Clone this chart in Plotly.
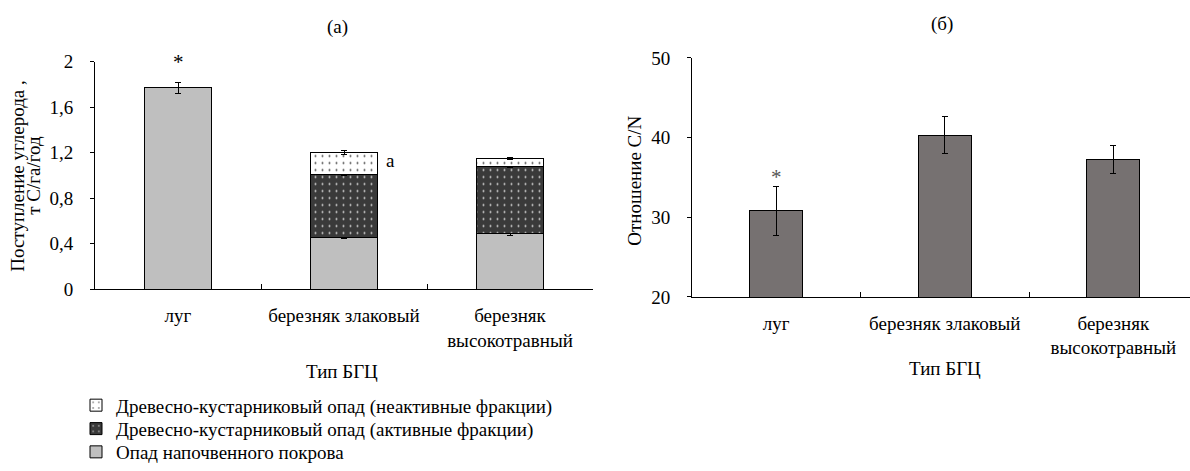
import plotly.graph_objects as go

W, H = 1190, 471

categories = ["луг", "березняк злаковый", "березняк<br>высокотравный"]

# Panel (а): carbon input, t C/ha/yr (stacked)
ground_litter = [1.77, 0.45, 0.49]
ground_err = [0.05, 0.005, 0.02]
wood_active = [0.56, 0.59]          # birch forests only
wood_active_err = [0.015, 0.01]
wood_inactive = [0.19, 0.07]
wood_inactive_err = [0.02, 0.01]

# Panel (б): C/N ratio
cn_ratio = [30.8, 40.3, 37.2]
cn_err = [3.1, 2.3, 1.75]

y1_ticks = [0, 0.4, 0.8, 1.2, 1.6, 2]
y1_ticktext = ["0", "0,4", "0,8", "1,2", "1,6", "2"]
y2_ticks = [20, 30, 40, 50]

legend_names = [
    "Опад напочвенного покрова",
    "Древесно-кустарниковый опад (активные фракции)",
    "Древесно-кустарниковый опад (неактивные фракции)",
]

FONT = "Liberation Serif, Times New Roman, serif"
FS = 19


def px_x(p):
    return p / W


def px_y(p):
    return (H - p) / H


fig = go.Figure()

err_style = dict(type="data", color="black", thickness=1, width=3, visible=True)

fig.add_trace(go.Bar(
    x=categories, y=ground_litter, name=legend_names[0], legend="legend3",
    marker=dict(color="#bfbfbf", line=dict(color="black", width=1)),
    error_y=dict(array=ground_err, **err_style),
    width=0.4, xaxis="x", yaxis="y",
))
fig.add_trace(go.Bar(
    x=categories[1:], y=wood_active, name=legend_names[1], legend="legend2",
    marker=dict(color="#3a3a3a", line=dict(color="black", width=1),
                pattern=dict(shape=".", fgcolor="#dddddd", bgcolor="#3a3a3a",
                             size=7, solidity=0.06, fillmode="replace")),
    error_y=dict(array=wood_active_err, **err_style),
    width=0.4, xaxis="x", yaxis="y",
))
fig.add_trace(go.Bar(
    x=categories[1:], y=wood_inactive, name=legend_names[2], legend="legend",
    marker=dict(color="white", line=dict(color="black", width=1),
                pattern=dict(shape=".", fgcolor="#444444", bgcolor="white",
                             size=7, solidity=0.06, fillmode="replace")),
    error_y=dict(array=wood_inactive_err, **err_style),
    width=0.4, xaxis="x", yaxis="y",
))

fig.add_trace(go.Bar(
    x=categories, y=cn_ratio, showlegend=False,
    marker=dict(color="#767171", line=dict(color="black", width=1)),
    error_y=dict(array=cn_err, **err_style),
    width=0.315, xaxis="x2", yaxis="y2",
))

axis_common = dict(
    showgrid=False, zeroline=False, showline=True, linecolor="black", linewidth=1,
    tickfont=dict(family=FONT, size=FS, color="black"), automargin=False,
)

legend_common = dict(xanchor="left", yanchor="middle", bgcolor="rgba(0,0,0,0)",
                     font=dict(family=FONT, size=FS, color="black"),
                     itemwidth=30, tracegroupgap=0, borderwidth=0)

fig.update_layout(
    width=W, height=H,
    margin=dict(l=0, r=0, t=0, b=0),
    paper_bgcolor="white", plot_bgcolor="white",
    barmode="stack",
    font=dict(family=FONT, size=FS, color="black"),
    xaxis=dict(domain=[px_x(95), px_x(593)], range=[-0.5, 2.5],
               ticks="inside", tickson="boundaries", ticklen=5, tickcolor="black",
               ticklabelstandoff=9, anchor="y", **axis_common),
    yaxis=dict(domain=[px_y(296), px_y(63)], range=[0, 2],
               tickvals=y1_ticks, ticktext=y1_ticktext,
               ticks="outside", ticklen=4, tickcolor="black", ticklabelstandoff=13,
               anchor="x", **axis_common),
    xaxis2=dict(domain=[px_x(692), 1.0], range=[-0.5, 2.455],
                ticks="inside", tickson="boundaries", ticklen=5, tickcolor="black",
                ticklabelstandoff=9, anchor="y2", **axis_common),
    yaxis2=dict(domain=[px_y(304), px_y(59.3)], range=[20, 50],
                tickvals=y2_ticks,
                ticks="outside", ticklen=4, tickcolor="black", ticklabelstandoff=13,
                anchor="x2", **axis_common),
    legend=dict(x=px_x(76), y=px_y(415), **legend_common),
    legend2=dict(x=px_x(76), y=px_y(439), **legend_common),
    legend3=dict(x=px_x(76), y=px_y(463), **legend_common),
    showlegend=True,
)

ann = dict(xref="paper", yref="paper", showarrow=False,
           xanchor="center", yanchor="middle",
           font=dict(family=FONT, size=FS, color="black"))
fig.add_annotation(text="(а)", x=px_x(337), y=px_y(28), **ann)
fig.add_annotation(text="(б)", x=px_x(942), y=px_y(25), **ann)
fig.add_annotation(text="Тип БГЦ", x=px_x(342), y=px_y(380), **ann)
fig.add_annotation(text="Тип БГЦ", x=px_x(945), y=px_y(377), **ann)
fig.add_annotation(text="Поступление углерода ,", textangle=-90,
                   x=px_x(18), y=px_y(180), **ann)
fig.add_annotation(text="т С/га/год", textangle=-90,
                   x=px_x(34), y=px_y(180), **ann)
fig.add_annotation(text="Отношение C/N", textangle=-90,
                   x=px_x(635), y=px_y(185), **ann)
# significance marks
fig.add_annotation(text="*", x=categories[0], y=2.0, xref="x", yref="y",
                   xanchor="center", yanchor="middle", showarrow=False,
                   font=dict(family=FONT, size=FS + 2, color="black"))
fig.add_annotation(text="а", x=1.28, y=1.13, xref="x", yref="y",
                   xanchor="center", yanchor="middle", showarrow=False,
                   font=dict(family=FONT, size=FS, color="black"))
fig.add_annotation(text="*", x=categories[0], y=35.0, xref="x2", yref="y2",
                   xanchor="center", yanchor="middle", showarrow=False,
                   font=dict(family=FONT, size=FS + 2, color="#555555"))

fig.write_html("out.html")
